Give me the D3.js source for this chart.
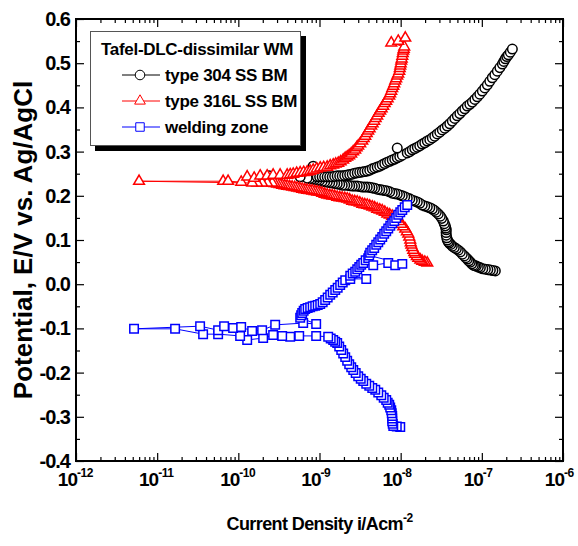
<!DOCTYPE html>
<html>
<head>
<meta charset="utf-8">
<script src="https://cdn.jsdelivr.net/npm/d3@7"></script>
<style>
  body { margin: 0; background: #fff; }
  text { font-family: Arial, "Liberation Sans", sans-serif; font-weight: bold; fill: #000; }
</style>
</head>
<body>
<svg id="chart" width="578" height="546"></svg>
<script>
// [log10(i / A cm^-2), E / V], in sweep order
var ss304 = [
  [-6.834,0.030],[-6.864,0.031],[-6.895,0.032],[-6.926,0.033],[-6.957,0.034],[-6.988,0.035],[-7.018,0.037],[-7.043,0.039],
  [-7.068,0.041],[-7.087,0.042],[-7.105,0.043],[-7.124,0.046],[-7.142,0.050],[-7.161,0.053],[-7.179,0.057],[-7.198,0.060],
  [-7.216,0.064],[-7.241,0.068],[-7.265,0.073],[-7.290,0.077],[-7.314,0.080],[-7.339,0.083],[-7.364,0.086],[-7.383,0.090],
  [-7.401,0.093],[-7.413,0.096],[-7.425,0.100],[-7.432,0.105],[-7.438,0.111],[-7.440,0.117],[-7.438,0.123],[-7.444,0.127],
  [-7.450,0.132],[-7.462,0.137],[-7.475,0.143],[-7.494,0.149],[-7.512,0.154],[-7.537,0.159],[-7.561,0.163],[-7.586,0.167],
  [-7.610,0.170],[-7.641,0.173],[-7.672,0.175],[-7.703,0.177],[-7.734,0.179],[-7.765,0.183],[-7.795,0.186],[-7.826,0.188],
  [-7.857,0.190],[-7.888,0.193],[-7.919,0.195],[-7.950,0.198],[-7.980,0.200],[-8.011,0.202],[-8.042,0.204],[-8.073,0.205],
  [-8.104,0.206],[-8.135,0.209],[-8.165,0.211],[-8.196,0.212],[-8.227,0.213],[-8.258,0.214],[-8.289,0.215],[-8.320,0.217],
  [-8.350,0.218],[-8.381,0.219],[-8.412,0.220],[-8.443,0.220],[-8.473,0.220],[-8.504,0.221],[-8.535,0.222],[-8.566,0.222],
  [-8.597,0.222],[-8.628,0.223],[-8.658,0.224],[-8.689,0.224],[-8.720,0.224],[-8.751,0.226],[-8.782,0.227],[-8.813,0.228],
  [-8.843,0.229],[-8.874,0.230],[-8.905,0.231],[-8.936,0.232],[-8.967,0.233],[-8.998,0.235],[-9.028,0.236],[-9.059,0.237],
  [-9.090,0.238],[-9.121,0.239],[-9.152,0.240],[-9.620,0.245],[-9.238,0.243],[-9.078,0.267],
  [-9.028,0.243],[-8.998,0.243],[-8.967,0.243],[-8.936,0.243],[-8.905,0.243],[-8.874,0.243],[-8.843,0.243],[-8.813,0.244],
  [-8.782,0.245],[-8.751,0.245],[-8.720,0.245],[-8.689,0.246],[-8.658,0.247],[-8.628,0.248],[-8.597,0.249],[-8.566,0.251],
  [-8.535,0.252],[-8.504,0.253],[-8.473,0.254],[-8.443,0.255],[-8.412,0.256],[-8.381,0.258],[-8.350,0.261],[-8.320,0.263],
  [-8.289,0.265],[-8.258,0.267],[-8.227,0.270],[-8.196,0.273],[-8.165,0.276],[-8.135,0.278],[-8.104,0.281],[-8.073,0.283],
  [-8.042,0.286],[-8.011,0.289],[-7.980,0.292],[-8.042,0.308],
  [-7.919,0.297],[-7.888,0.300],[-7.857,0.304],[-7.826,0.307],[-7.795,0.310],[-7.765,0.313],[-7.734,0.317],[-7.703,0.320],
  [-7.672,0.324],[-7.641,0.327],[-7.610,0.331],[-7.580,0.335],[-7.549,0.340],[-7.518,0.344],[-7.487,0.349],[-7.456,0.353],
  [-7.425,0.358],[-7.395,0.363],[-7.364,0.369],[-7.333,0.375],[-7.302,0.381],[-7.271,0.386],[-7.240,0.392],[-7.210,0.397],
  [-7.179,0.403],[-7.148,0.407],[-7.117,0.412],[-7.086,0.418],[-7.055,0.424],[-7.025,0.430],[-6.994,0.437],[-6.963,0.444],
  [-6.932,0.451],[-6.902,0.459],[-6.871,0.467],[-6.840,0.474],[-6.809,0.482],[-6.778,0.490],[-6.747,0.498],[-6.729,0.504],
  [-6.710,0.510],[-6.692,0.515],[-6.673,0.519],[-6.649,0.525],[-6.624,0.532]
];

var ss316L = [
  [-7.672,0.048],[-7.703,0.050],[-7.734,0.052],[-7.758,0.055],[-7.783,0.059],[-7.801,0.063],[-7.820,0.068],[-7.832,0.072],
  [-7.845,0.077],[-7.857,0.083],[-7.869,0.089],[-7.876,0.094],[-7.882,0.100],[-7.894,0.107],[-7.906,0.114],[-7.924,0.119],
  [-7.943,0.125],[-7.968,0.130],[-7.993,0.136],[-8.017,0.142],[-8.042,0.148],[-8.073,0.151],[-8.104,0.154],[-8.135,0.157],
  [-8.165,0.159],[-8.196,0.163],[-8.227,0.166],[-8.258,0.168],[-8.289,0.170],[-8.320,0.173],[-8.350,0.175],[-8.381,0.177],
  [-8.412,0.179],[-8.443,0.180],[-8.473,0.181],[-8.504,0.184],[-8.535,0.186],[-8.566,0.187],[-8.597,0.188],[-8.628,0.191],
  [-8.658,0.193],[-8.689,0.194],[-8.720,0.195],[-8.751,0.196],[-8.782,0.197],[-8.813,0.199],[-8.843,0.200],[-8.874,0.201],
  [-8.905,0.202],[-8.936,0.204],[-8.967,0.206],[-8.998,0.208],[-9.028,0.209],[-9.059,0.210],[-9.090,0.211],[-9.121,0.212],
  [-9.152,0.213],[-9.183,0.214],[-9.213,0.215],[-9.244,0.217],[-9.275,0.218],[-9.306,0.219],[-9.337,0.220],[-9.368,0.221],
  [-9.398,0.222],[-9.429,0.223],[-9.460,0.224],[-9.491,0.226],[-9.522,0.227],[-9.553,0.228],[-9.583,0.229],[-9.645,0.229],
  [-9.707,0.229],[-9.768,0.229],[-9.830,0.229],
  [-11.223,0.233],[-10.187,0.233],[-10.126,0.233],[-9.965,0.231],[-9.891,0.243],[-9.805,0.240],[-9.731,0.245],[-9.645,0.245],
  [-9.571,0.247],[-9.485,0.247],[-9.398,0.247],[-9.361,0.248],[-9.324,0.249],[-9.281,0.251],[-9.238,0.252],[-9.195,0.253],
  [-9.152,0.254],[-9.115,0.256],[-9.078,0.258],[-9.035,0.261],[-8.991,0.263],[-8.948,0.264],[-8.905,0.265],[-8.868,0.268],
  [-8.831,0.270],[-8.800,0.272],[-8.769,0.274],[-8.739,0.277],[-8.708,0.281],[-8.683,0.285],[-8.658,0.288],[-8.634,0.291],
  [-8.609,0.295],[-8.585,0.300],[-8.560,0.304],[-8.542,0.309],[-8.523,0.313],[-8.498,0.318],[-8.473,0.324],[-8.455,0.330],
  [-8.436,0.335],[-8.418,0.341],[-8.400,0.347],[-8.382,0.352],[-8.363,0.358],[-8.345,0.363],[-8.326,0.369],[-8.308,0.375],
  [-8.289,0.381],[-8.271,0.387],[-8.252,0.392],[-8.234,0.397],[-8.215,0.403],[-8.197,0.409],[-8.178,0.414],[-8.160,0.420],
  [-8.141,0.426],[-8.129,0.431],[-8.116,0.437],[-8.104,0.443],[-8.091,0.448],[-8.079,0.454],[-8.067,0.460],[-8.055,0.465],
  [-8.042,0.471],[-8.030,0.476],[-8.017,0.482],[-8.011,0.488],[-8.005,0.494],[-7.999,0.499],[-7.993,0.505],[-7.987,0.510],
  [-7.980,0.516],[-7.974,0.522],[-7.968,0.528],[-7.962,0.532],[-7.956,0.537],[-8.116,0.546],[-8.030,0.550],[-7.943,0.557]
];

var weldZone = [
  [-8.005,-0.323],[-8.048,-0.322],[-8.091,-0.321],[-8.098,-0.316],[-8.104,-0.310],[-8.104,-0.304],[-8.104,-0.298],[-8.110,-0.292],
  [-8.116,-0.285],[-8.129,-0.279],[-8.141,-0.273],[-8.160,-0.268],[-8.178,-0.262],[-8.209,-0.257],[-8.239,-0.251],[-8.276,-0.245],
  [-8.313,-0.239],[-8.350,-0.235],[-8.387,-0.230],[-8.424,-0.225],[-8.461,-0.219],[-8.492,-0.214],[-8.523,-0.208],[-8.554,-0.201],
  [-8.584,-0.194],[-8.609,-0.188],[-8.634,-0.181],[-8.659,-0.173],[-8.683,-0.165],[-8.708,-0.157],[-8.732,-0.149],[-8.757,-0.141],
  [-8.782,-0.133],[-8.807,-0.130],[-8.831,-0.126],[-8.862,-0.123],[-8.893,-0.119],
  [-9.041,-0.117],[-9.250,-0.117],[-9.361,-0.119],[-9.460,-0.117],[-9.571,-0.115],[-9.694,-0.122],[-9.891,-0.126],[-9.978,-0.117],
  [-10.249,-0.113],[-10.434,-0.113],[-10.779,-0.101],[-11.285,-0.101],[-10.471,-0.095],[-10.249,-0.104],[-10.175,-0.095],[-10.064,-0.099],
  [-9.965,-0.097],[-9.830,-0.106],[-9.707,-0.104],[-9.546,-0.092],[-9.201,-0.088],[-9.041,-0.090],
  [-9.238,-0.076],[-9.226,-0.070],[-9.213,-0.065],[-9.195,-0.060],[-9.176,-0.056],[-9.146,-0.054],[-9.115,-0.052],[-9.084,-0.050],
  [-9.053,-0.049],[-9.022,-0.047],[-8.991,-0.045],[-8.961,-0.041],[-8.930,-0.036],[-8.899,-0.030],[-8.868,-0.024],[-8.837,-0.019],
  [-8.806,-0.013],[-8.776,-0.008],[-8.745,-0.002],[-8.714,0.004],[-8.683,0.009],[-8.621,0.012],[-8.424,0.012],[-8.621,0.019],
  [-8.591,0.024],[-8.560,0.028],[-8.535,0.034],[-8.510,0.039],[-8.486,0.044],[-8.461,0.048],[-8.431,0.054],[-8.400,0.059],
  [-8.338,0.043],[-8.153,0.048],[-8.067,0.043],[-7.980,0.046],
  [-8.388,0.065],[-8.375,0.071],[-8.351,0.077],[-8.326,0.082],[-8.301,0.089],[-8.276,0.095],[-8.252,0.101],[-8.227,0.107],
  [-8.203,0.114],[-8.178,0.120],[-8.153,0.126],[-8.128,0.132],[-8.104,0.138],[-8.079,0.143],[-8.055,0.150],[-8.030,0.157],
  [-8.005,0.163],[-7.980,0.168],[-7.950,0.174],[-7.919,0.179]
];

var seriesNames = ['type 304 SS BM', 'type 316L SS BM', 'welding zone'];
var seriesColors = ['#000000', '#ff0000', '#0000ff'];
var legendTitle = 'Tafel-DLC-dissimilar WM';

var xTickPowers = [-12, -11, -10, -9, -8, -7, -6];
var yTickValues = [0.6, 0.5, 0.4, 0.3, 0.2, 0.1, 0.0, -0.1, -0.2, -0.3, -0.4];
var yTickLabels = ['0.6', '0.5', '0.4', '0.3', '0.2', '0.1', '0.0', '-0.1', '-0.2', '-0.3', '-0.4'];
var xTitle = 'Current Density i/Acm';
var xTitleSup = '-2';
var yTitle = 'Potential, E/V vs. Ag/AgCl';

(function () {
  // plot frame
  var pL = 76, pR = 563, pT = 19, pB = 461;

  var svg = d3.select('#chart');

  var x = d3.scaleLog().domain([1e-12, 1e-6]).range([pL, pR]);
  var y = d3.scaleLinear().domain([-0.4, 0.6]).range([pB, pT]);

  var majorX = xTickPowers.map(function (p) { return Math.pow(10, p); });
  var minorX = x.ticks().filter(function (v) {
    var l = Math.log10(v);
    return Math.abs(l - Math.round(l)) > 1e-6;
  });
  var minorY = y.ticks(20).filter(function (v) {
    return Math.abs(v * 10 - Math.round(v * 10)) > 1e-6;
  });

  // ticks all point inwards, on all four sides
  function drawTicks(axisFn, scale, pos, values, len) {
    var g = svg.append('g')
      .attr('transform', pos)
      .call(axisFn(scale).tickValues(values).tickSize(-len).tickFormat(''));
    g.select('.domain').remove();
    g.selectAll('line').attr('stroke', '#000').attr('stroke-width', 1.2);
  }

  drawTicks(d3.axisBottom, x, 'translate(0,' + pB + ')', majorX, 8);
  drawTicks(d3.axisBottom, x, 'translate(0,' + pB + ')', minorX, 4);
  drawTicks(d3.axisTop, x, 'translate(0,' + pT + ')', majorX, 8);
  drawTicks(d3.axisTop, x, 'translate(0,' + pT + ')', minorX, 4);
  drawTicks(d3.axisLeft, y, 'translate(' + pL + ',0)', yTickValues, 8);
  drawTicks(d3.axisLeft, y, 'translate(' + pL + ',0)', minorY, 4);
  drawTicks(d3.axisRight, y, 'translate(' + pR + ',0)', yTickValues, 8);
  drawTicks(d3.axisRight, y, 'translate(' + pR + ',0)', minorY, 4);

  svg.append('rect')
    .attr('x', pL).attr('y', pT)
    .attr('width', pR - pL).attr('height', pB - pT)
    .attr('fill', 'none').attr('stroke', '#000').attr('stroke-width', 2);

  // tick labels
  svg.append('g').selectAll('text')
    .data(yTickValues)
    .enter().append('text')
    .attr('x', pL - 6)
    .attr('y', function (d) { return y(d) + 7; })
    .attr('text-anchor', 'end')
    .style('font-size', '20px')
    .style('letter-spacing', '-1px')
    .text(function (d, i) { return yTickLabels[i]; });

  var xl = svg.append('g').selectAll('g')
    .data(xTickPowers)
    .enter().append('g');
  xl.append('text')
    .attr('x', function (d) { return x(Math.pow(10, d)) + 1; })
    .attr('y', pB + 25)
    .attr('text-anchor', 'end')
    .style('font-size', '19px')
    .style('letter-spacing', '-1px')
    .text('10');
  xl.append('text')
    .attr('x', function (d) { return x(Math.pow(10, d)) + 1; })
    .attr('y', pB + 16)
    .style('font-size', '12px')
    .style('letter-spacing', '-0.5px')
    .text(function (d) { return String(d); });

  // axis titles
  var xt = svg.append('text')
    .attr('x', (pL + pR) / 2)
    .attr('y', 530)
    .attr('text-anchor', 'middle')
    .style('font-size', '18px')
    .style('letter-spacing', '-0.6px');
  xt.append('tspan').text(xTitle);
  xt.append('tspan').attr('dy', -8).style('font-size', '12px').text(xTitleSup);

  svg.append('text')
    .attr('transform', 'translate(32,' + (pT + pB) / 2 + ') rotate(-90)')
    .attr('text-anchor', 'middle')
    .style('font-size', '26px')
    .text(yTitle);

  // series
  var allSeries = [ss304, ss316L, weldZone];
  var symbols = [
    d3.symbol().type(d3.symbolCircle).size(72),
    d3.symbol().type(d3.symbolTriangle).size(50),
    d3.symbol().type(d3.symbolSquare).size(72)
  ];

  var line = d3.line()
    .x(function (d) { return x(Math.pow(10, d[0])); })
    .y(function (d) { return y(d[1]); });

  allSeries.forEach(function (data, k) {
    var g = svg.append('g');
    g.append('path')
      .datum(data)
      .attr('d', line)
      .attr('fill', 'none')
      .attr('stroke', seriesColors[k])
      .attr('stroke-width', 1);
    g.selectAll('path.mk')
      .data(data)
      .enter().append('path')
      .attr('class', 'mk')
      .attr('d', symbols[k])
      .attr('transform', function (d) {
        return 'translate(' + x(Math.pow(10, d[0])) + ',' + y(d[1]) + ')';
      })
      .attr('fill', '#fff')
      .attr('stroke', seriesColors[k])
      .attr('stroke-width', 1.5);
  });

  // legend with shadow
  var lg = svg.append('g');
  lg.append('rect').attr('x', 95).attr('y', 36).attr('width', 211).attr('height', 115).attr('fill', '#000');
  lg.append('rect').attr('x', 90.5).attr('y', 31.5).attr('width', 210).attr('height', 114)
    .attr('fill', '#fff').attr('stroke', '#555').attr('stroke-width', 1);
  lg.append('text').attr('x', 101).attr('y', 55).style('font-size', '17px').style('letter-spacing', '-0.3px').text(legendTitle);

  seriesNames.forEach(function (name, k) {
    var cy = 75 + k * 26;
    lg.append('line').attr('x1', 122).attr('x2', 160).attr('y1', cy).attr('y2', cy)
      .attr('stroke', seriesColors[k]).attr('stroke-width', 1);
    lg.append('path').attr('d', symbols[k])
      .attr('transform', 'translate(140,' + cy + ')')
      .attr('fill', '#fff').attr('stroke', seriesColors[k]).attr('stroke-width', 1);
    lg.append('text').attr('x', 165).attr('y', cy + 6)
      .style('font-size', '17px').style('letter-spacing', '-0.3px').text(name);
  });
})();
</script>
</body>
</html>
